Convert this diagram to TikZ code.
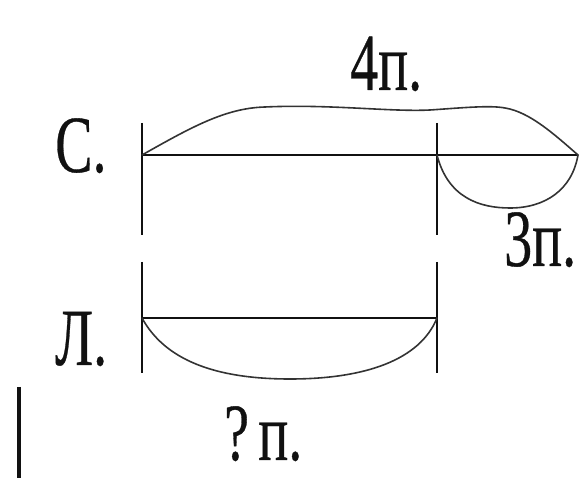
\documentclass[tikz,border=0pt]{standalone}
\usepackage{fontspec}
\setmainfont{Liberation Serif}
\newfontfamily\timesx[FakeBold=0.5]{Liberation Serif}
\usepackage{tikz}
\usetikzlibrary{calc,positioning}
\definecolor{inkx}{HTML}{111111}
\definecolor{arcx}{HTML}{333333}
\newcommand{\tallx}[1]{\scalebox{1}[1.45]{#1}}
\tikzset{
  seg/.style={line width=1.5pt,inkx},
  arc/.style={line width=1.6pt,arcx,line cap=round},
  lbl/.style={font=\timesx\fontsize{56}{60}\selectfont,inner sep=0pt,anchor=base west,inkx}
}

\begin{document}
\begin{tikzpicture}[x=1pt,y=-1pt]
\useasboundingbox (0,0) rectangle (582,478);
% points of the two bars
\coordinate (sA) at (142,155);
\coordinate (sB) at (437,155);
\coordinate (sC) at (578,155);
\coordinate (lA) at (142,318);
\coordinate (lB) at (437,318);
% labels
\node[lbl] (cS) at (55,172) {\tallx{С.}};
\node[lbl] (cL) at (55,365) {\tallx{Л.}};
\node[lbl] (four) at (350,90) {\tallx{4п.}};
\node[lbl] (three) at (504,266) {\tallx{3п.}};
\node[lbl] (quest) at (224,460) {\tallx{?\,п.}};
% bars
\draw[seg] (sA) -- (sC);
\draw[seg] (lA) -- (lB);
\draw[seg] ($(sA)+(0,-32)$) -- ($(sA)+(0,80)$);
\draw[seg] ($(sA)+(0,107)$) -- ($(lA)+(0,55)$);
\draw[seg] ($(sB)+(0,-32)$) -- ($(sB)+(0,80)$);
\draw[seg] ($(sB)+(0,107)$) -- ($(lB)+(0,55)$);
% braces
\draw[arc] (sA) .. controls (190,128) and (225,108) .. (265,107)
  .. controls (330,104) and (390,112) .. (430,110)
  .. controls (460,108) and (490,105) .. (505,108)
  .. controls (530,112) and (555,135) .. (sC);
\draw[arc] (sB) .. controls (448,198) and (480,208) .. (510,208)
  .. controls (545,208) and (572,190) .. (sC);
\draw[arc] (lA) .. controls (165,360) and (215,379) .. (290,379)
  .. controls (365,379) and (420,360) .. (lB);
% stray mark
\draw[line width=4pt,inkx] (19,387) -- (19,478);
\end{tikzpicture}
\end{document}
